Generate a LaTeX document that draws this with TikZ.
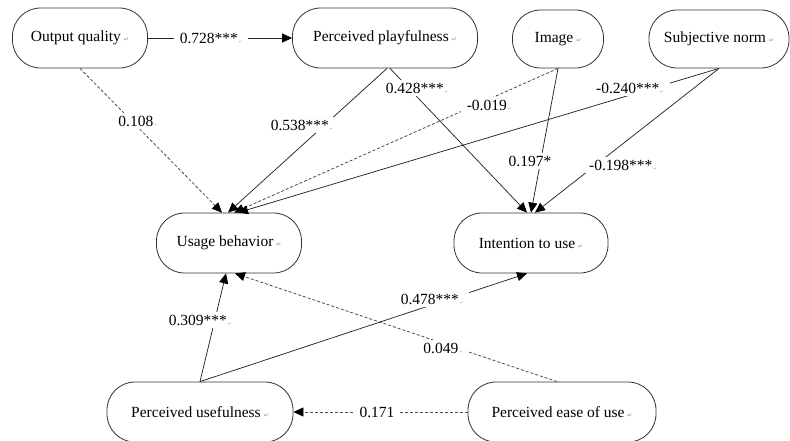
\documentclass[tikz,border=0pt]{standalone}
\usepackage{fontspec}
\setmainfont{Liberation Serif}
\newfontfamily\dvfont{DejaVu Sans}
\usetikzlibrary{arrows.meta,calc}
\newcommand\pmk{\hspace{3pt}{\dvfont\fontsize{6}{6}\selectfont\color{black!45}↵}}
\newcommand\lmk{\hspace{1pt}{\dvfont\fontsize{4}{4}\selectfont\color{black!40}↵}}
\begin{document}
\begin{tikzpicture}[x=1pt,y=-1pt,
  box/.style={draw=black!80, line width=0.8pt, rounded corners=28pt, minimum height=60pt, inner sep=0pt, font=\fontsize{15.5}{18}\selectfont, fill=white},
  lab/.style={fill=white, inner xsep=6pt, inner ysep=3pt, font=\fontsize{15.5}{18}\selectfont},
  sol/.style={draw=black!85, line width=0.75pt, -{Triangle[length=10pt,width=9pt,color=black]}},
  das/.style={sol, draw=black!70, line width=0.8pt, dash pattern=on 3pt off 2pt}]
\useasboundingbox (0,0) rectangle (790,440);
% nodes
\node[box, minimum width=135pt] (oq) at (80,38) {Output quality\pmk};
\node[box, minimum width=185pt] (pp) at (385,38) {Perceived playfulness\pmk};
\node[box, minimum width=91pt, minimum height=58pt] (im) at (558,39) {Image\pmk};
\node[box, minimum width=140pt, minimum height=58pt] (sn) at (719,39) {Subjective norm\pmk};
\node[box, minimum width=145pt] (ub) at (229,243) {Usage behavior\pmk};
\node[box, minimum width=154pt] (iu) at (531,243) {Intention to use\pmk};
\node[box, minimum width=186pt] (pu) at (200,412) {Perceived usefulness\pmk};
\node[box, minimum width=188pt] (pe) at (562,412) {Perceived ease of use\pmk};
% connectors
\draw[sol] (oq) -- (pp);
\draw[das] (oq.south) -- ([xshift=-7pt]ub.north);
\draw[sol] ([xshift=2pt]pp.south) -- ([xshift=-1pt]ub.north);
\draw[sol] ([xshift=5pt]pp.south) -- ([xshift=-4pt]iu.north);
\draw[das] (im.south) -- ([xshift=5pt]ub.north);
\draw[sol] (im.south) -- (iu.north);
\draw[sol] (sn.south) -- ([xshift=9pt]ub.north);
\draw[sol] (sn.south) -- ([xshift=4pt]iu.north);
\draw[sol] (pu.north) -- ([xshift=-3pt]ub.south);
\draw[sol] (pu.north) -- ([xshift=-4pt]iu.south);
\draw[das] ([xshift=-5pt]pe.north) -- ([xshift=6pt]ub.south);
\draw[das] (pe.west) -- (pu.east);
% labels
\node[lab] (l1) at (211,38) {0.728***\lmk};
\node[lab] (l2) at (138,121) {0.108\lmk};
\node[lab] (l3) at (302,125) {0.538***\lmk};
\node[lab] (l4) at (417,88) {0.428***\lmk};
\node[lab] (l5) at (489,105) {-0.019\lmk};
\node[lab] (l6) at (630,88) {-0.240***\lmk};
\node[lab] (l7) at (530,161) {0.197*};
\node[lab] (l8) at (623,165) {-0.198***\lmk};
\node[lab] (l9) at (200,320) {0.309***\lmk};
\node[lab] (l10) at (432,299) {0.478***\lmk};
\node[lab] (l11) at (443,348) {0.049\lmk};
\node[lab] (l12) at (377,412) {0.171};
\end{tikzpicture}
\end{document}
